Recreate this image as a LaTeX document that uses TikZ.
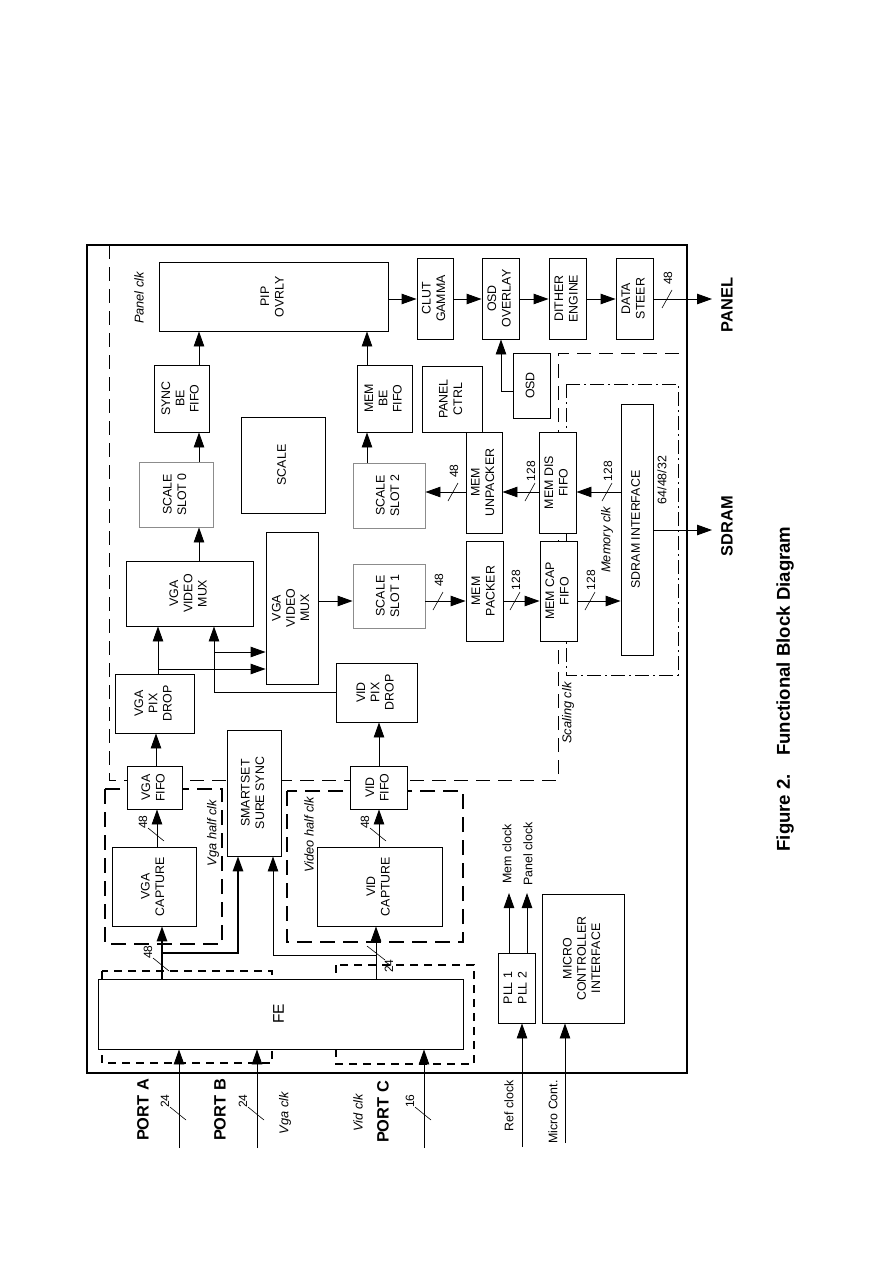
\documentclass[tikz,border=0pt]{standalone}
\usepackage{fontspec}
\setmainfont{Liberation Sans}
\usetikzlibrary{arrows.meta}
\newcommand\blk[7][]{%
  \node[box,#1,minimum width={(#5-#3)*1pt},minimum height={(#6-#4)*1pt}] (#2) at ({(#3+#5)/2},{(#4+#6)/2})
  {\rotatebox{90}{\begin{tabular}{@{}c@{}}#7\end{tabular}}};}
% vertical bus slash: x, y, label, name
\newcommand\vbus[4]{%
  \draw[slash] ({#1-9},{#2-7}) -- ({#1+7},{#2+6});
  \node[buslbl] (#4) at ({#1-14},{#2-13}) {#3};}
% horizontal bus slash: x, y, label, name
\newcommand\hbus[4]{%
  \draw[slash] ({#1-5},{#2+9}) -- ({#1+5},{#2-9});
  \node[buslbl] (#4) at ({#1+1},{#2-21}) {#3};}
\begin{document}
\begin{tikzpicture}[x=1pt,y=-1pt,
  box/.style={draw,fill=white,line width=0.9pt,inner sep=0pt,font=\fontsize{12.4}{14.3}\selectfont},
  gbox/.style={box,draw=black!45},
  arr/.style={line width=0.9pt,-{Triangle[length=15pt,width=10.5pt]}},
  lbl/.style={rotate=90,inner sep=0pt,font=\fontsize{12.4}{14.3}\selectfont},
  ilbl/.style={rotate=90,inner sep=0pt,font=\fontsize{12.8}{14}\selectfont\itshape},
  blbl/.style={rotate=90,inner sep=0pt,font=\fontsize{16.4}{18}\selectfont\bfseries},
  buslbl/.style={rotate=90,inner sep=0pt,font=\fontsize{12}{13}\selectfont},
  slash/.style={line width=0.6pt},
  longdash/.style={line width=0.9pt,dash pattern=on 14pt off 8pt},
  dashdotted/.style={line width=0.9pt,dash pattern=on 14pt off 4pt on 2pt off 4pt},
  thickdash/.style={line width=2pt,dash pattern=on 15pt off 8pt},
  shortdash/.style={line width=1.8pt,dash pattern=on 8pt off 6pt}]
\useasboundingbox (0,0) rectangle (893,1263);

% frame and clock regions
\draw[line width=1.4pt] (87,245) rectangle (687,1073);
\draw[longdash] (109,245) -- (109,780) -- (558,780) -- (558,353) -- (687,353);
\draw[dashdotted] (566,384) rectangle (678,675);
\draw[thickdash] (105,789) rectangle (222,944);
\draw[thickdash] (287,791) rectangle (463,942);
\draw[shortdash] (102,971) rectangle (272,1063);
\draw[shortdash] (336,965) rectangle (474,1064);

% blocks
\blk{pip}{159}{262}{388}{331}{PIP\\OVRLY}
\blk{clut}{417}{258}{453}{339}{CLUT\\GAMMA}
\blk{osdov}{482}{258}{519}{339}{OSD\\OVERLAY}
\blk{dither}{549}{258}{586}{339}{DITHER\\ENGINE}
\blk{steer}{616}{258}{653}{339}{DATA\\STEER}
\blk{syncbe}{154}{365}{209}{432}{SYNC\\BE\\FIFO}
\blk{membe}{357}{365}{412}{432}{MEM\\BE\\FIFO}
\blk{panelctrl}{422}{366}{482}{432}{PANEL\\CTRL}
\blk{osd}{513}{353}{550}{418}{OSD}
\blk{scale}{241}{417}{325}{513}{SCALE}
\blk[gbox]{slot0}{139}{462}{213}{527}{SCALE\\SLOT 0}
\blk[gbox]{slot2}{353}{463}{425}{528}{SCALE\\SLOT 2}
\blk{unpack}{466}{432}{502}{533}{MEM\\UNPACKER}
\blk{disfifo}{539}{432}{576}{533}{MEM DIS\\FIFO}
\blk{sdram}{621}{404}{653}{655}{SDRAM INTERFACE}
\blk{mux1}{126}{561}{253}{626}{VGA\\VIDEO\\MUX}
\blk{mux2}{266}{532}{318}{684}{VGA\\VIDEO\\MUX}
\blk[gbox]{slot1}{353}{564}{425}{628}{SCALE\\SLOT 1}
\blk{packer}{466}{541}{503}{641}{MEM\\PACKER}
\blk{capfifo}{540}{541}{577}{641}{MEM CAP\\FIFO}
\blk{vgapix}{115}{674}{194}{733}{VGA\\PIX\\DROP}
\blk{vidpix}{336}{663}{417}{722}{VID\\PIX\\DROP}
\blk{smart}{227}{730}{281}{856}{SMARTSET\\SURE SYNC}
\blk{vgafifo}{127}{766}{182}{809}{VGA\\FIFO}
\blk{vidfifo}{350}{766}{407}{809}{VID\\FIFO}
\blk{vgacap}{112}{847}{196}{926}{VGA\\CAPTURE}
\blk{vidcap}{317}{847}{442}{926}{VID\\CAPTURE}
\blk[font=\fontsize{15.5}{17}\selectfont]{fe}{98}{979}{463}{1049}{FE}
\blk{pll}{498}{953}{535}{1023}{PLL 1\\PLL 2}
\blk{micro}{542}{894}{624}{1023}{MICRO\\CONTROLLER\\INTERFACE}

% outer labels
\node[blbl] (panel) at (727,305) {PANEL};
\node[blbl] (sdramlbl) at (727,526) {SDRAM};
\node[rotate=90,inner sep=0pt,font=\fontsize{18.6}{20}\selectfont\bfseries] (caption) at (785,689) {Figure 2.\hspace{0.6em} Functional Block Diagram};
\node[blbl] (porta) at (143,1110) {PORT A};
\node[blbl] (portb) at (220,1110) {PORT B};
\node[blbl] (portc) at (383,1112) {PORT C};
\node[ilbl] (vgaclk) at (285,1113) {Vga clk};
\node[ilbl] (vidclk) at (358,1113) {Vid clk};
\node[lbl] (refclk) at (509,1106) {Ref clock};
\node[lbl] (microc) at (553,1112) {Micro Cont.};
\node[lbl] (memclk) at (507,854) {Mem clock};
\node[lbl] (panclk) at (528,854) {Panel clock};
\node[ilbl] (panelclk) at (139,298) {Panel clk};
\node[ilbl] (scalingclk) at (568,713) {Scaling clk};
\node[ilbl] (memoryclk) at (607,540) {Memory clk};
\node[ilbl] (vgahalf) at (213,833) {Vga half clk};
\node[ilbl] (vidhalf) at (309,835) {Video half clk};
\node[lbl] (buswidth) at (662,480) {64/48/32};

% free ends
\coordinate (panelend) at (712,299);
\coordinate (sdramend) at (712,530);
\coordinate (pa) at (179,1148);
\coordinate (pb) at (257,1148);
\coordinate (pc) at (424,1148);
\coordinate (rc) at (522,1147);
\coordinate (mc) at (565,1143);
\coordinate (memout) at (509,893);
\coordinate (panout) at (527,893);

% panel chain
\draw[arr] (pip.east |- 0,299) -- (clut.west |- 0,299);
\draw[arr] (clut.east |- 0,299) -- (osdov.west |- 0,299);
\draw[arr] (osdov.east |- 0,299) -- (dither.west |- 0,299);
\draw[arr] (dither.east |- 0,299) -- (steer.west |- 0,299);
\draw[arr] (steer.east |- 0,299) -- (panelend);
\hbus{667}{299}{48}{b1}
\draw[arr] (osd.west |- 0,391) -| (501,0 |- osdov.south);

% back end fifos
\draw[arr] (199,0 |- slot0.north) -- (199,0 |- syncbe.south);
\draw[arr] (199,0 |- syncbe.north) -- (199,0 |- pip.south);
\draw[arr] (367,0 |- slot2.north) -- (367,0 |- membe.south);
\draw[arr] (367,0 |- membe.north) -- (367,0 |- pip.south);
\draw[arr] (199,0 |- mux1.north) -- (199,0 |- slot0.south);

% memory display path
\draw[arr] (sdram.west |- 0,492) -- (disfifo.east |- 0,492);
\hbus{607}{492}{128}{b2}
\draw[arr] (disfifo.west |- 0,492) -- (unpack.east |- 0,492);
\hbus{530}{492}{128}{b3}
\draw[arr] (unpack.west |- 0,492) -- (slot2.east |- 0,492);
\hbus{453}{492}{48}{b4}

% memory capture path
\draw[arr] (mux2.east |- 0,601) -- (slot1.west |- 0,601);
\draw[arr] (slot1.east |- 0,601) -- (packer.west |- 0,601);
\hbus{438}{601}{48}{b5}
\draw[arr] (packer.east |- 0,601) -- (capfifo.west |- 0,601);
\hbus{515}{601}{128}{b6}
\draw[arr] (capfifo.east |- 0,601) -- (sdram.west |- 0,601);
\hbus{590}{601}{128}{b7}
\draw[arr] (sdram.east |- 0,530) -- (sdramend);

% muxes
\draw[arr] (158,0 |- vgapix.north) -- (158,0 |- mux1.south);
\draw[arr] (158,669) -- (mux2.west |- 0,669);
\draw[arr] (vidpix.west |- 0,692) -| (214,0 |- mux1.south);
\draw[arr] (214,652) -- (mux2.west |- 0,652);
\draw[arr] (156,0 |- vgafifo.north) -- (156,0 |- vgapix.south);
\draw[arr] (379,0 |- vidfifo.north) -- (379,0 |- vidpix.south);

% capture
\draw[arr] (157,0 |- vgacap.north) -- (157,0 |- vgafifo.south);
\vbus{157}{835}{48}{b8}
\draw[arr] (379,0 |- vidcap.north) -- (379,0 |- vidfifo.south);
\vbus{379}{835}{48}{b9}
\draw[arr,line width=1.5pt] (162,0 |- fe.north) -- (162,0 |- vgacap.south);
\draw[arr,line width=1.5pt] (162,953) -| (238,0 |- smart.south);
\vbus{162}{965}{48}{b10}
\draw[arr] (376,0 |- fe.north) -- (376,0 |- vidcap.south);
\draw[arr] (376,955) -| (273,0 |- smart.south);
\draw[slash] (367,946) -- (385,960);
\node[buslbl] (b11) at (389,966) {24};

% inputs
\draw[arr] (pa) -- (pa |- fe.south);
\vbus{179}{1114}{24}{b12}
\draw[arr] (pb) -- (pb |- fe.south);
\vbus{257}{1114}{24}{b13}
\draw[arr] (pc) -- (pc |- fe.south);
\vbus{424}{1114}{16}{b14}
\draw[arr] (rc) -- (rc |- pll.south);
\draw[arr] (mc) -- (mc |- micro.south);
\draw[arr] (memout |- pll.north) -- (memout);
\draw[arr] (panout |- pll.north) -- (panout);
\end{tikzpicture}
\end{document}
